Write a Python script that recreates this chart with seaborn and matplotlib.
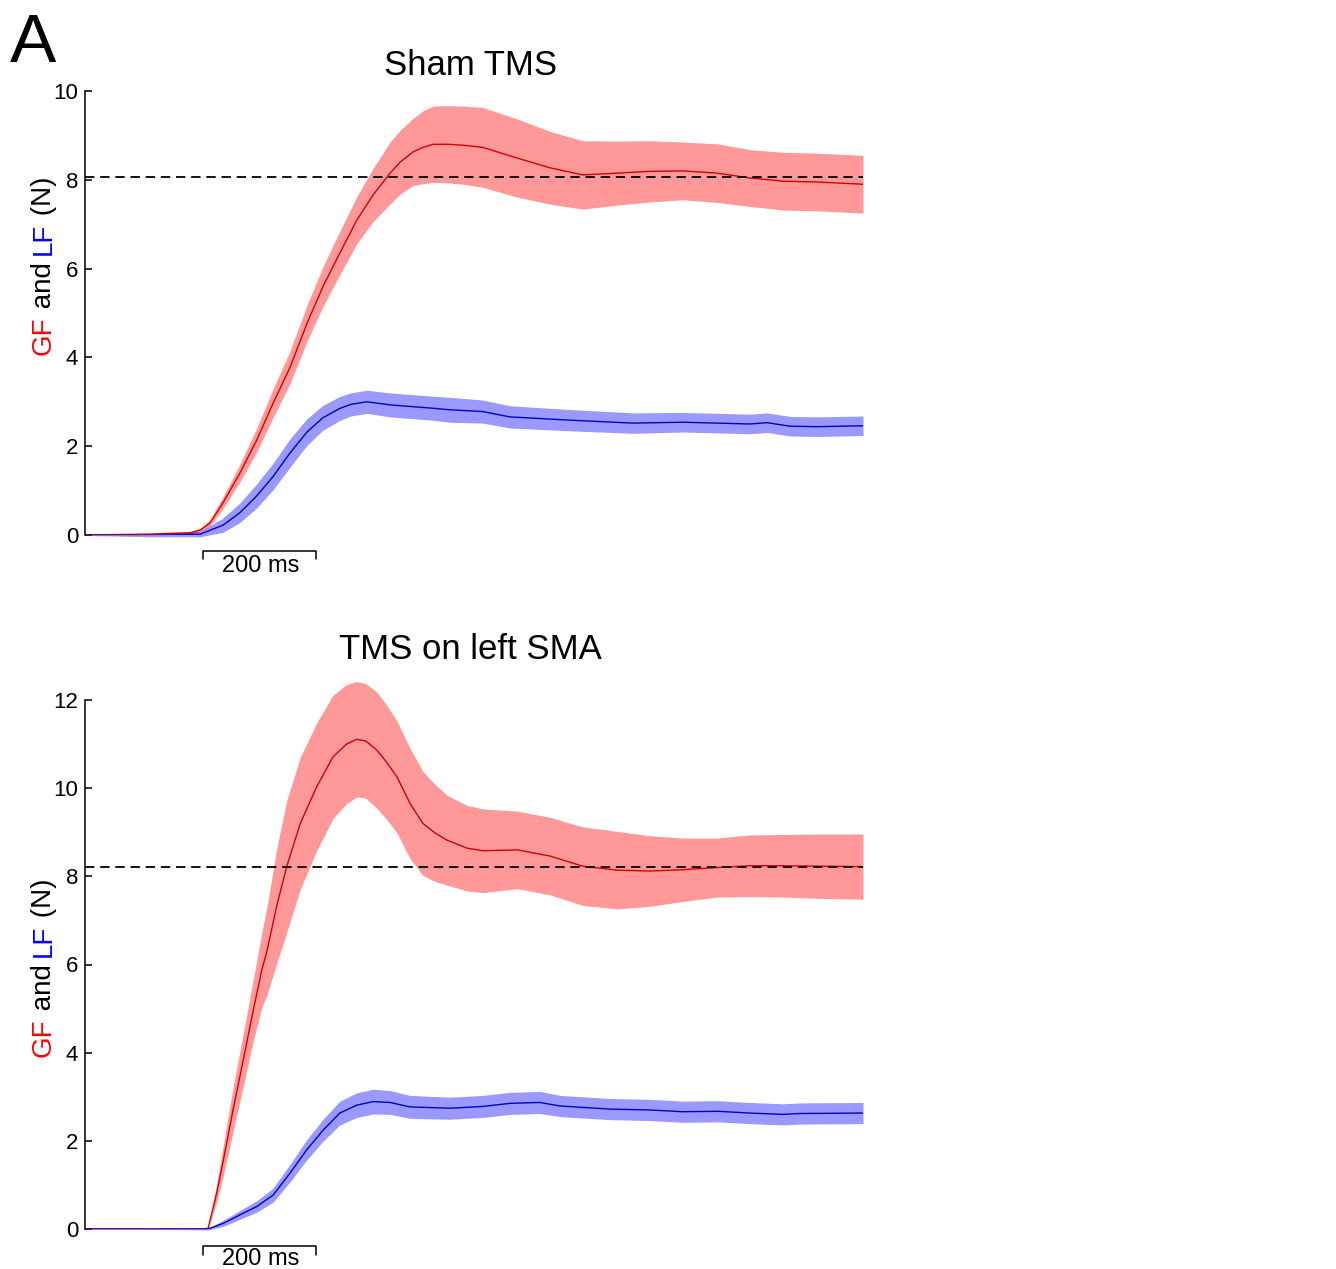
import matplotlib
matplotlib.use("Agg")
import matplotlib.pyplot as plt
import seaborn as sns

# time in ms, force in N (mean and SEM)
sham_gf_t = [0, 115, 186, 204, 221, 244, 274, 304, 333, 363, 393, 421, 451, 481, 510, 540, 558,
             581, 598, 616, 642, 669, 704, 765, 823, 881, 942, 1000, 1058, 1119, 1177, 1235, 1296, 1377]
sham_gf_mean = [0.0, 0.02, 0.05, 0.11, 0.27, 0.72, 1.39, 2.14, 2.97, 3.78, 4.77, 5.59, 6.35, 7.09, 7.66, 8.15, 8.4,
                8.63, 8.73, 8.8, 8.8, 8.78, 8.73, 8.49, 8.27, 8.11, 8.15, 8.19, 8.2, 8.15, 8.04, 7.97, 7.95, 7.9]
sham_gf_sem = [0.01, 0.02, 0.03, 0.04, 0.07, 0.13, 0.2, 0.27, 0.32, 0.37, 0.41, 0.45, 0.49, 0.53, 0.6, 0.7, 0.72,
               0.76, 0.82, 0.86, 0.87, 0.88, 0.9, 0.88, 0.82, 0.77, 0.72, 0.69, 0.65, 0.66, 0.64, 0.65, 0.65, 0.65]

sham_lf_t = [0, 115, 204, 244, 274, 304, 333, 363, 393, 421, 451, 470, 499, 540, 611, 646, 704, 752,
             853, 970, 1058, 1119, 1177, 1207, 1248, 1296, 1377]
sham_lf_mean = [0.0, -0.01, 0.02, 0.22, 0.5, 0.88, 1.32, 1.85, 2.32, 2.64, 2.85, 2.94, 3.0, 2.93, 2.86, 2.82, 2.78,
                2.66, 2.59, 2.52, 2.54, 2.52, 2.5, 2.53, 2.45, 2.44, 2.46]
sham_lf_sem = [0.01, 0.03, 0.06, 0.16, 0.22, 0.27, 0.3, 0.32, 0.3, 0.28, 0.27, 0.26, 0.26, 0.27, 0.27, 0.28, 0.26,
               0.25, 0.24, 0.23, 0.22, 0.22, 0.22, 0.22, 0.22, 0.22, 0.22]

sma_gf_t = [0, 115, 212, 218, 233, 245, 262, 280, 298, 313, 322, 339, 357, 381, 410, 439, 463, 481, 497,
            516, 532, 552, 575, 598, 620, 641, 676, 704, 765, 823, 881, 942, 1000, 1058, 1119, 1177, 1235,
            1301, 1377]
sma_gf_mean = [0.0, 0.0, 0.0, 0.02, 0.81, 1.57, 2.7, 3.83, 4.97, 5.88, 6.3, 7.31, 8.22, 9.2, 10.03, 10.71, 11.0,
               11.11, 11.07, 10.87, 10.62, 10.26, 9.66, 9.2, 8.98, 8.82, 8.64, 8.58, 8.6, 8.46, 8.23, 8.14, 8.12,
               8.15, 8.2, 8.24, 8.24, 8.23, 8.22]
sma_gf_sem = [0.01, 0.01, 0.01, 0.02, 0.2, 0.35, 0.5, 0.6, 0.7, 0.85, 1.0, 1.3, 1.5, 1.5, 1.45, 1.4, 1.35,
              1.31, 1.3, 1.32, 1.3, 1.27, 1.25, 1.18, 1.1, 1.02, 0.97, 0.95, 0.88, 0.88, 0.89, 0.88, 0.8,
              0.72, 0.67, 0.7, 0.71, 0.73, 0.74]

sma_lf_t = [0, 115, 218, 245, 274, 304, 333, 363, 392, 422, 451, 481, 510, 540, 575, 646, 704, 752,
            805, 841, 929, 1000, 1058, 1119, 1177, 1235, 1265, 1377]
sma_lf_mean = [0.0, 0.0, 0.0, 0.13, 0.32, 0.51, 0.77, 1.27, 1.79, 2.25, 2.63, 2.81, 2.89, 2.87, 2.77, 2.74, 2.78, 2.85,
               2.87, 2.79, 2.72, 2.7, 2.66, 2.67, 2.63, 2.6, 2.62, 2.63]
sma_lf_sem = [0.01, 0.01, 0.02, 0.07, 0.1, 0.13, 0.16, 0.2, 0.23, 0.25, 0.27, 0.28, 0.28, 0.27, 0.26, 0.25, 0.25, 0.25,
              0.25, 0.24, 0.24, 0.24, 0.24, 0.24, 0.24, 0.24, 0.24, 0.24]

sham_target = 8.06
sma_target = 8.22
titles = ["Sham TMS", "TMS on left SMA"]

W, H = 1336, 1269

sns.set_style("ticks")
plt.rcParams['font.family'] = ['Liberation Sans', 'DejaVu Sans']
for key in ['text.color', 'axes.labelcolor', 'xtick.color', 'ytick.color', 'axes.edgecolor']:
    plt.rcParams[key] = 'black'

fig = plt.figure(figsize=(W / 100, H / 100), dpi=100)
ax1 = fig.add_axes([85 / W, 1 - 535 / H, 778 / W, 444 / H])
ax2 = fig.add_axes([85 / W, 1 - 1229 / H, 778 / W, 529 / H])


def draw_panel(ax, gf, lf, target, ymax, title, title_pad, bar_y, text_y):
    for (t, m, s), band, line in [(gf, '#ff0000', '#d40000'), (lf, '#0000ff', '#0000c8')]:
        lo = [a - b for a, b in zip(m, s)]
        hi = [a + b for a, b in zip(m, s)]
        ax.fill_between(t, lo, hi, color=band, alpha=0.4, lw=0, clip_on=False)
        sns.lineplot(x=t, y=m, ax=ax, color=line, lw=1.0, errorbar=None)
    ax.axhline(target, color='k', lw=1.3, dashes=(5.2, 3.2))
    ax.set_xlim(0, 1377)
    ax.set_ylim(0, ymax)
    ax.set_yticks(range(0, ymax + 1, 2))
    ax.set_xticks([])
    ax.tick_params(axis='y', direction='in', length=5, width=1.1, labelsize=16, pad=5)
    sns.despine(ax=ax, bottom=True)
    ax.spines['left'].set_linewidth(1.1)
    ax.set_xlabel('')
    ax.set_ylabel('')
    ax.set_title(title, fontsize=25, x=0.495, pad=title_pad)
    # 200 ms scale bar
    y0, y1 = bar_y
    ax.plot([209, 209, 409, 409], [y1, y0, y0, y1], color='k', lw=1.1, clip_on=False)
    ax.text(311, text_y, '200 ms', ha='center', va='baseline', fontsize=17)


draw_panel(ax1, (sham_gf_t, sham_gf_mean, sham_gf_sem), (sham_lf_t, sham_lf_mean, sham_lf_sem),
           sham_target, 10, titles[0], 11.5, (-0.354, -0.54), -0.84)
draw_panel(ax2, (sma_gf_t, sma_gf_mean, sma_gf_sem), (sma_lf_t, sma_lf_mean, sma_lf_sem),
           sma_target, 12, titles[1], 29.5, (-0.38, -0.59), -0.81)

fig.text(10 / W, 1 - 62 / H, 'A', fontsize=50, va='baseline', ha='left')

renderer = fig.canvas.get_renderer()


def color_ylabel(x_px, y_px):
    y = y_px
    for s, c in [('GF', '#ff0000'), (' and ', 'k'), ('LF', '#0000ff'), (' (N)', 'k')]:
        txt = fig.text(x_px / W, 1 - y / H, s, color=c, fontsize=20, rotation=90,
                       rotation_mode='anchor', ha='left', va='baseline')
        y -= txt.get_window_extent(renderer).height


color_ylabel(51, 355)
color_ylabel(51, 1057)

fig.savefig('out.png', dpi=100)
